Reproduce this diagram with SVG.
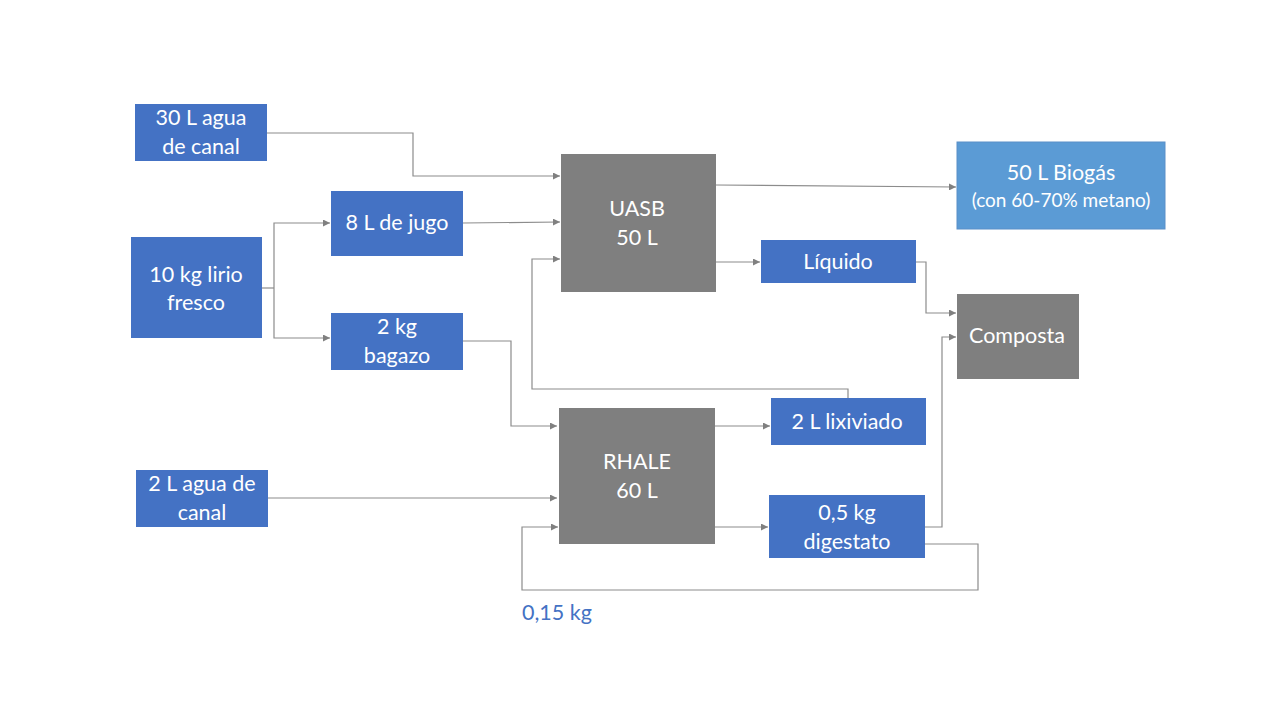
<svg xmlns="http://www.w3.org/2000/svg" width="1280" height="720" viewBox="0 0 1280 720">
<defs>
<marker id="ah" viewBox="0 0 10 10" refX="10" refY="5" markerWidth="7" markerHeight="7" markerUnits="userSpaceOnUse" orient="auto">
<path d="M0,0 L10,5 L0,10 z" fill="#808080"/>
</marker>
<style>
.b{fill:#4472C4}
.g{fill:#7F7F7F}
.lb{fill:#5B9BD5;stroke:#5B8FC8;stroke-width:1}
.t{font-family:Lato,"Liberation Sans",sans-serif;font-size:21.5px;fill:#fff;text-anchor:middle}
.s{font-size:19px}
.c{fill:none;stroke:#8C8C8C;stroke-width:1.2}
.a{marker-end:url(#ah)}
</style>
</defs>
<rect width="1280" height="720" fill="#fff"/>
<g id="connectors">
<path class="c a" d="M267,133 H413 V176 H560"/>
<path class="c a" d="M463,223 L560,222"/>
<path class="c" d="M262,288 H274"/>
<path class="c a" d="M274,288 V223 H330"/>
<path class="c a" d="M274,288 V338 H330"/>
<path class="c a" d="M463,341 H511 V426 H557"/>
<path class="c a" d="M268,498 H557"/>
<path class="c a" d="M716,185 L956,187"/>
<path class="c a" d="M716,262 H760"/>
<path class="c a" d="M896,262 H926 V313 H956"/>
<path class="c a" d="M848,398 V389 H532 V259 H560"/>
<path class="c a" d="M715,426 H770"/>
<path class="c a" d="M715,527 H768"/>
<path class="c a" d="M925,527 H942 V337 H956"/>
<path class="c a" d="M925,544 H978 V590 H522 V527 H558"/>
</g>
<g id="n30agua"><rect class="b" x="135" y="104" width="132" height="57"/><text class="t" x="201" y="125">30 L agua</text><text class="t" x="201" y="154">de canal</text></g>
<g id="n10kg"><rect class="b" x="131" y="237" width="131" height="101"/><text class="t" x="196" y="282">10 kg lirio</text><text class="t" x="196" y="310">fresco</text></g>
<g id="n8L"><rect class="b" x="331" y="191" width="132" height="65"/><text class="t" x="397" y="230">8 L de jugo</text></g>
<g id="n2kg"><rect class="b" x="331" y="313" width="132" height="57"/><text class="t" x="397" y="334">2 kg</text><text class="t" x="397" y="363">bagazo</text></g>
<g id="n2Lagua"><rect class="b" x="136" y="470" width="132" height="57"/><text class="t" x="202" y="491">2 L agua de</text><text class="t" x="202" y="520">canal</text></g>
<g id="nUASB"><rect class="g" x="561" y="154" width="155" height="138"/><text class="t" x="637" y="216">UASB</text><text class="t" x="637" y="245">50 L</text></g>
<g id="nBiogas"><rect class="lb" x="957" y="142" width="208" height="87"/><text class="t" x="1061" y="180">50 L Biogás</text><text class="t s" x="1061" y="207">(con 60-70% metano)</text></g>
<g id="nLiquido"><rect class="b" x="761" y="240" width="155" height="43"/><text class="t" x="838" y="269">Líquido</text></g>
<g id="nComposta"><rect class="g" x="957" y="294" width="122" height="85"/><text class="t" x="1017" y="343">Composta</text></g>
<g id="nRHALE"><rect class="g" x="559" y="408" width="156" height="136"/><text class="t" x="637" y="469">RHALE</text><text class="t" x="637" y="498">60 L</text></g>
<g id="nLixiviado"><rect class="b" x="771" y="398" width="155" height="47"/><text class="t" x="847" y="429">2 L lixiviado</text></g>
<g id="nDigestato"><rect class="b" x="769" y="495" width="156" height="63"/><text class="t" x="847" y="520">0,5 kg</text><text class="t" x="847" y="549">digestato</text></g>
<text x="522" y="620" font-family="Lato,'Liberation Sans',sans-serif" font-size="21.5" fill="#4472C4">0,15 kg</text>
</svg>
